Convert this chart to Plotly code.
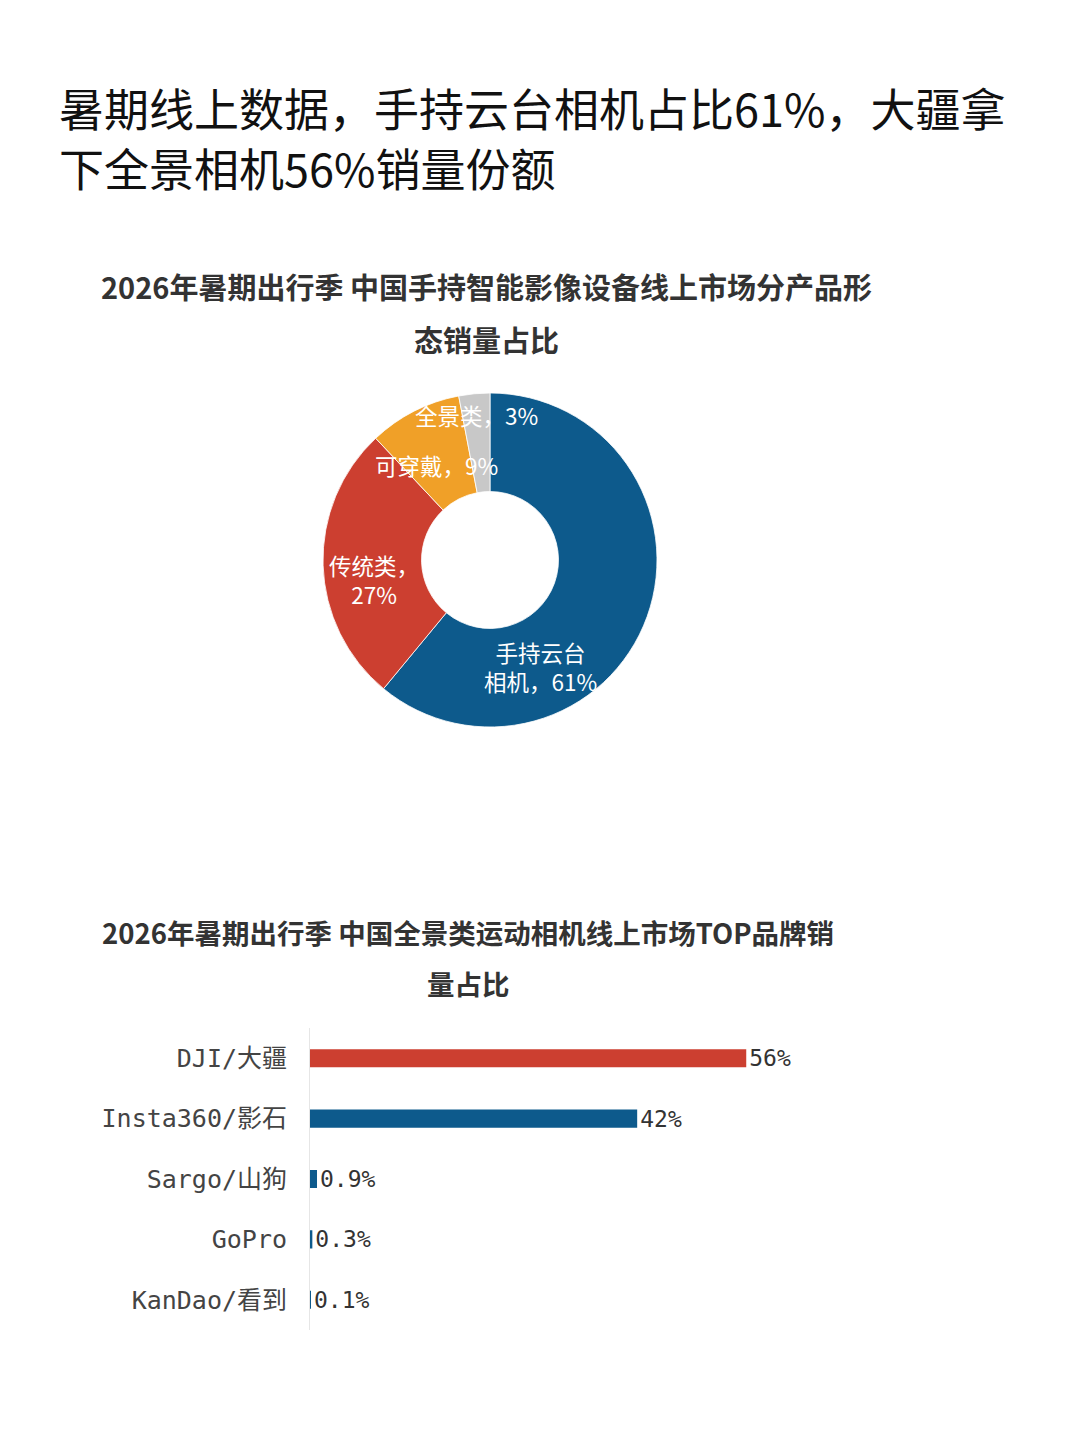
import plotly.graph_objects as go

W, H = 1080, 1443
# the page body adds an 8px margin, so positions are shifted back by it
OFF = 8

# donut: product form share
pie_labels = ['手持云台相机', '传统类', '可穿戴', '全景类']
pie_values = [61, 27, 9, 3]
pie_text = ['手持云台<br>相机，61%', '传统类，<br>27%', '可穿戴，9%', '全景类，3%']
pie_colors = ['#0D5A8C', '#CC3F30', '#F0A028', '#C8C8C8']

# bars: panoramic camera brand share
brands = ['DJI/大疆', 'Insta360/影石', 'Sargo/山狗', 'GoPro', 'KanDao/看到']
shares = [56, 42, 0.9, 0.3, 0.1]
share_text = ['56%', '42%', '0.9%', '0.3%', '0.1%']
bar_colors = ['#CC3F30', '#0D5A8C', '#0D5A8C', '#0D5A8C', '#0D5A8C']

CJK = 'Noto Sans CJK SC'
MONO = 'DejaVu Sans Mono, Noto Sans CJK SC'


def px(x, y):
    return (x - OFF) / W, 1 - (y - OFF) / H


fig = go.Figure()

# donut centre (490, 560), radius 167
cx, cy, r = 490, 560, 167
x0, y1 = px(cx - r, cy - r)
x1, y0 = px(cx + r, cy + r)
fig.add_trace(go.Pie(
    labels=pie_labels,
    values=pie_values,
    sort=False,
    direction='clockwise',
    rotation=0,
    hole=0.41,
    marker=dict(colors=pie_colors, line=dict(color='white', width=0.8)),
    textinfo='none',
    domain=dict(x=[x0, x1], y=[y0, y1]),
    showlegend=False,
))

fig.add_trace(go.Bar(
    y=brands,
    x=shares,
    orientation='h',
    width=0.3,
    marker=dict(color=bar_colors, line=dict(width=0)),
    text=share_text,
    textposition='outside',
    constraintext='none',
    outsidetextfont=dict(family=MONO, size=23, color='#333333'),
    cliponaxis=False,
    showlegend=False,
))

# inside-donut labels, placed as in the source graphic
label_pos = [(540, 666), (374, 580), (436, 465), (476, 415)]
annotations = []
for t, (x, y) in zip(pie_text, label_pos):
    ax, ay = px(x, y)
    annotations.append(dict(text=t, x=ax, y=ay, xref='paper', yref='paper',
                            showarrow=False, xanchor='center', yanchor='middle',
                            font=dict(family=CJK, size=22.5, color='white')))

# headline
for t, y in [('暑期线上数据，手持云台相机占比61%，大疆拿', 108),
             ('下全景相机56%销量份额', 168)]:
    ax, ay = px(57, y)
    annotations.append(dict(text=t, x=ax, y=ay, xref='paper', yref='paper',
                            showarrow=False, xanchor='left', yanchor='middle',
                            font=dict(family=CJK, size=45, color='#111111')))

# chart titles
titles = [
    ('2026年暑期出行季 中国手持智能影像设备线上市场分产品形', 486, 286, 29),
    ('态销量占比', 486, 339, 29),
    ('2026年暑期出行季 中国全景类运动相机线上市场TOP品牌销', 468, 932, 27.5),
    ('量占比', 468, 983, 27.5),
]
for t, x, y, s in titles:
    ax, ay = px(x, y)
    annotations.append(dict(text=t, x=ax, y=ay, xref='paper', yref='paper',
                            showarrow=False, xanchor='center', yanchor='middle',
                            font=dict(family=CJK, size=s, color='#333333',
                                      weight='bold')))

bx0, by0 = px(310, 1330)
bx1, by1 = px(310 + 80 * 7.79, 1028)

fig.update_layout(
    width=W, height=H,
    margin=dict(l=0, r=0, t=0, b=0),
    paper_bgcolor='white',
    plot_bgcolor='white',
    annotations=annotations,
    xaxis=dict(domain=[bx0, bx1], range=[0, 80],
               showgrid=False, zeroline=False, showticklabels=False,
               showline=False, fixedrange=True),
    yaxis=dict(domain=[by0, by1], autorange='reversed',
               showgrid=False, zeroline=False, showline=True,
               linecolor='#E6E6E6', linewidth=1, ticks='',
               ticklabelstandoff=17,
               tickfont=dict(family=MONO, size=25, color='#444444')),
    bargap=0.7,
)

fig.write_html('out.html')
